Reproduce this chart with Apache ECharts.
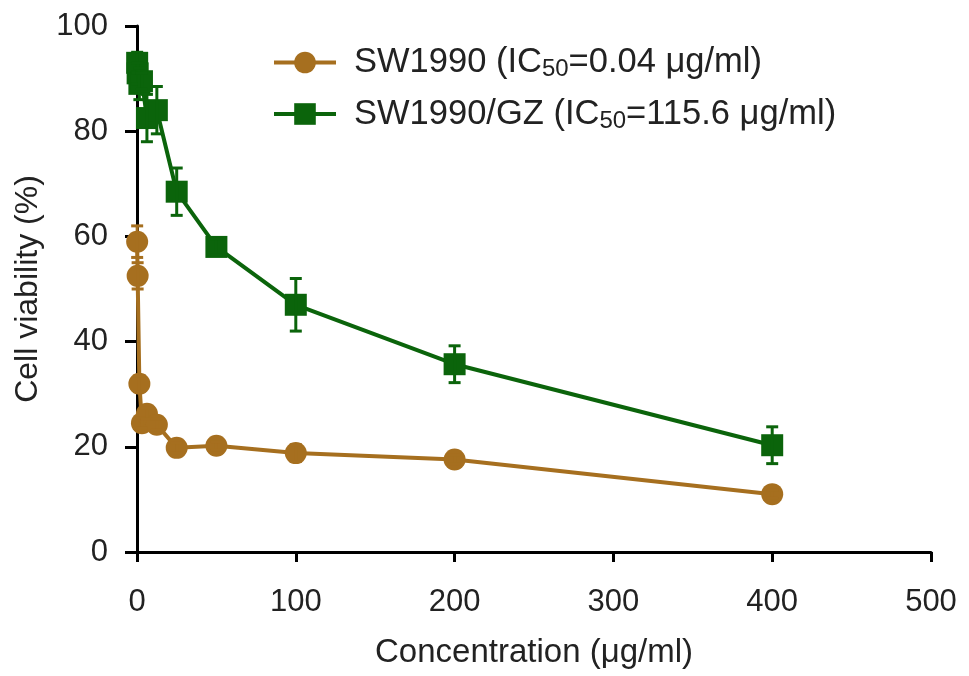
<!DOCTYPE html>
<html>
<head>
<meta charset="utf-8">
<script src="https://cdn.jsdelivr.net/npm/echarts@6/dist/echarts.min.js"></script>
<style>
html,body{margin:0;padding:0;background:#fff;}
#c{width:969px;height:676px;}
</style>
</head>
<body>
<div id="c"></div>
<script>
// Data
var xTicks = [0, 100, 200, 300, 400, 500];
var yTicks = [0, 20, 40, 60, 80, 100];
var conc = [0.1, 0.4, 1.5, 3.125, 6.25, 12.5, 25, 50, 100, 200, 400];
var swValues = [59, 52.5, 32, 24.5, 26.3, 24.2, 19.8, 20.2, 18.8, 17.6, 11];
var swErrors = [3, 2.5, 1.5, 1, 1, 1, 1, 0.8, 1.6, 0.8, 0.8];
var gzValues = [93, 91, 89, 89.5, 82.5, 84, 68.5, 58, 47, 35.7, 20.3];
var gzErrors = [2, 2, 3, 1.5, 4.5, 4.5, 4.5, 1.5, 5, 3.5, 3.5];
var seriesNames = ['SW1990', 'SW1990/GZ'];
var ic50 = ['0.04', '115.6'];

var brown = '#A66F1F';
var green = '#0B640B';
var FONT = 'Liberation Sans';

function pairs(xs, ys) { return xs.map(function (x, i) { return [x, ys[i]]; }); }
function errData(xs, ys, es) { return xs.map(function (x, i) { return [x, ys[i], es[i]]; }); }

function errRender(color) {
  return function (params, api) {
    var x = api.value(0), y = api.value(1), e = api.value(2);
    var top = api.coord([x, y + e]);
    var bot = api.coord([x, y - e]);
    var cap = 6;
    var st = { stroke: color, lineWidth: 3 };
    return {
      type: 'group',
      children: [
        { type: 'line', shape: { x1: top[0], y1: top[1], x2: bot[0], y2: bot[1] }, style: st },
        { type: 'line', shape: { x1: top[0] - cap, y1: top[1], x2: top[0] + cap, y2: top[1] }, style: st },
        { type: 'line', shape: { x1: bot[0] - cap, y1: bot[1], x2: bot[0] + cap, y2: bot[1] }, style: st }
      ]
    };
  };
}

var chart = echarts.init(document.getElementById('c'));
chart.setOption({
  animation: false,
  backgroundColor: '#fff',
  textStyle: { fontFamily: FONT, color: '#222' },
  grid: { left: 137, right: 38, top: 26, bottom: 124, containLabel: false },
  legend: {
    orient: 'vertical',
    left: 267,
    top: 40,
    itemWidth: 62,
    itemHeight: 27,
    itemGap: 15,
    lineStyle: { width: 4 },
    data: seriesNames,
    formatter: function (name) {
      var i = seriesNames.indexOf(name);
      return '{g|}{a|' + name + ' (IC}{s|50}{a|=' + ic50[i] + ' μg/ml)}';
    },
    textStyle: {
      fontFamily: FONT,
      rich: {
        g: { width: 13, lineHeight: 38 },
        a: { fontSize: 34.5, color: '#222', fontFamily: FONT, lineHeight: 38 },
        s: { fontSize: 24, color: '#222', fontFamily: FONT, verticalAlign: 'bottom', lineHeight: 18 }
      }
    }
  },
  xAxis: {
    type: 'value',
    min: xTicks[0], max: xTicks[xTicks.length - 1], interval: 100,
    splitLine: { show: false },
    axisLine: { show: true, onZero: true, lineStyle: { color: '#000', width: 3 } },
    axisTick: { show: true, length: 10, lineStyle: { color: '#000', width: 3 } },
    axisLabel: { fontSize: 31, color: '#222', margin: 35, fontFamily: FONT },
    name: 'Concentration (μg/ml)',
    nameLocation: 'middle',
    nameGap: 84,
    nameTextStyle: { fontSize: 33, color: '#222', fontFamily: FONT }
  },
  yAxis: {
    type: 'value',
    min: yTicks[0], max: yTicks[yTicks.length - 1], interval: 20,
    splitLine: { show: false },
    axisLine: { show: true, onZero: true, lineStyle: { color: '#000', width: 3 } },
    axisTick: { show: true, length: 12, lineStyle: { color: '#000', width: 3 } },
    axisLabel: { fontSize: 31, color: '#222', margin: 29, fontFamily: FONT },
    name: 'Cell viability (%)',
    nameLocation: 'middle',
    nameGap: 93,
    nameTextStyle: { fontSize: 32, color: '#222', fontFamily: FONT }
  },
  series: [
    {
      name: seriesNames[0], type: 'line', data: pairs(conc, swValues),
      symbol: 'circle', symbolSize: 22,
      itemStyle: { color: brown }, lineStyle: { color: brown, width: 4 }, z: 3
    },
    {
      name: seriesNames[1], type: 'line', data: pairs(conc, gzValues),
      symbol: 'rect', symbolSize: 22,
      itemStyle: { color: green }, lineStyle: { color: green, width: 4 }, z: 3
    },
    {
      name: 'err1', type: 'custom', data: errData(conc, swValues, swErrors),
      renderItem: errRender(brown), z: 4, silent: true
    },
    {
      name: 'err2', type: 'custom', data: errData(conc, gzValues, gzErrors),
      renderItem: errRender(green), z: 4, silent: true
    }
  ]
});
</script>
</body>
</html>
